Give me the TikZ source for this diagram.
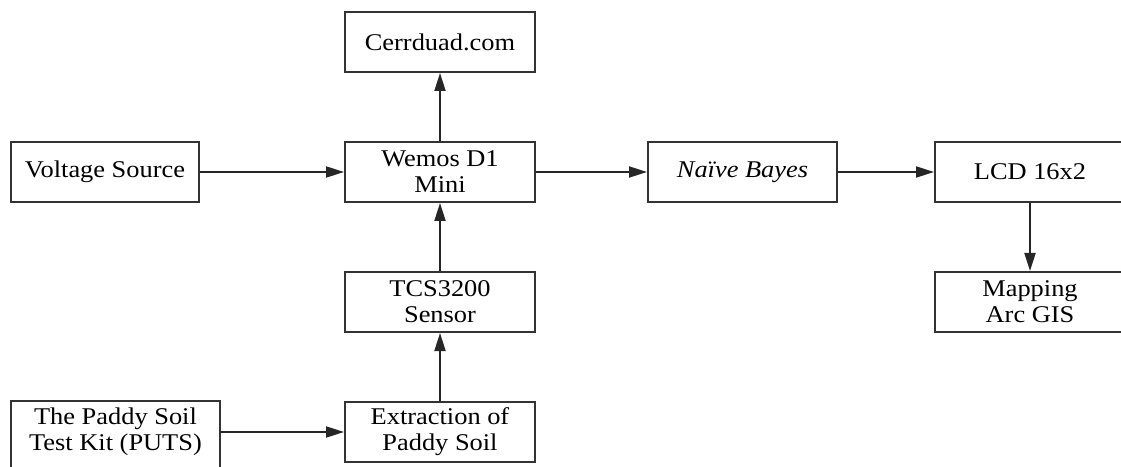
\documentclass[tikz,border=0pt]{standalone}
\usepackage{fontspec}
\setmainfont{Liberation Serif}[FakeStretch=1.1]
\usetikzlibrary{arrows.meta}

\begin{document}
\begin{tikzpicture}[x=1pt,y=1pt,
  block/.style={draw=black!80, line width=2pt, minimum width=190pt, minimum height=60pt,
    align=center, inner sep=2pt, font=\fontsize{24}{26}\selectfont},
  link/.style={draw=black!85, line width=2pt, -{Triangle[length=18pt,width=11pt]}}]
\useasboundingbox (0,0) rectangle (1121,466);
  \node[block] (cloud) at (440,424) {Cerrduad.com};
  \node[block, minimum width=188pt] (volt) at (105,294) {Voltage Source};
  \node[block] (wemos) at (440,294) {Wemos D1\\Mini};
  \node[block, minimum width=189pt] (bayes) at (742.5,294) {\itshape Naïve Bayes};
  \node[block] (lcd) at (1030,294) {LCD 16x2};
  \node[block] (gis) at (1030,164) {Mapping\\Arc GIS};
  \node[block] (sensor) at (440,164) {TCS3200\\Sensor};
  \node[block] (extract) at (440,34) {Extraction of\\Paddy Soil};
  \node[block, draw=none, minimum width=207pt] (kit) at (115.5,34) {The Paddy Soil\\Test Kit (PUTS)};
  % kit box runs past the lower edge
  \draw[draw=black!80, line width=2pt] (kit.north west) rectangle ([yshift=-30pt]kit.south east);

  \draw[link] (volt) -- (wemos);
  \draw[link] (wemos) -- (cloud);
  \draw[link] (wemos) -- (bayes);
  \draw[link] (bayes) -- (lcd);
  \draw[link] (lcd) -- (gis);
  \draw[link] (sensor) -- (wemos);
  \draw[link] (extract) -- (sensor);
  \draw[link] (kit) -- (extract);
\end{tikzpicture}
\end{document}
